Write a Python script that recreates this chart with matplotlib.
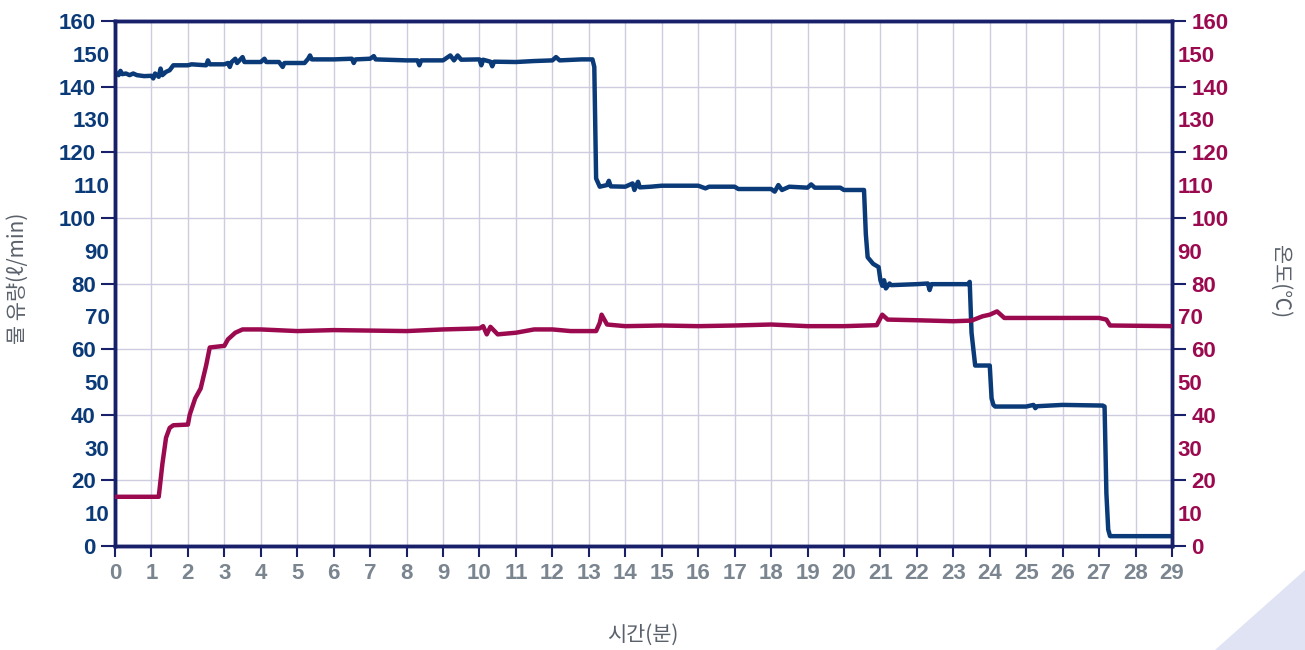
import matplotlib.pyplot as plt
import numpy as np
from matplotlib.patches import Polygon

# flow (l/min) over time (min)
flow_t = [0.0, 0.1, 0.15, 0.2, 0.3, 0.4, 0.5, 0.6, 0.8, 1.0, 1.05, 1.1, 1.2, 1.25, 1.3, 1.4, 1.5,
          1.6, 2.0, 2.1, 2.5, 2.55, 2.6, 3.0, 3.1, 3.15, 3.2, 3.3, 3.35, 3.5, 3.55, 4.0, 4.1, 4.15,
          4.5, 4.6, 4.65, 5.0, 5.2, 5.3, 5.35, 5.4, 6.0, 6.5, 6.55, 6.6, 7.0, 7.1, 7.15, 8.0, 8.3,
          8.35, 8.4, 9.0, 9.2, 9.3, 9.4, 9.5, 10.0, 10.05, 10.1, 10.3, 10.35, 10.4, 11.0, 11.5, 12.0,
          12.1, 12.2, 12.8, 13.1, 13.15, 13.2, 13.3, 13.5, 13.55, 13.6, 14.0, 14.2, 14.25, 14.35,
          14.4, 14.7, 15.0, 16.0, 16.2, 16.3, 17.0, 17.1, 18.0, 18.1, 18.2, 18.3, 18.5, 19.0, 19.1,
          19.2, 19.9, 20.0, 20.55, 20.6, 20.65, 20.8, 20.95, 21.0, 21.05, 21.1, 21.15, 21.25, 21.3,
          22.0, 22.3, 22.35, 22.4, 23.4, 23.45, 23.5, 23.6, 24.0, 24.05, 24.1, 24.15, 25.0, 25.2,
          25.25, 25.3, 26.0, 27.1, 27.15, 27.2, 27.25, 27.3, 29.0]
flow_v = [144.5, 143.5, 144.8, 143.8, 144.0, 143.5, 144.0, 143.5, 143.2, 143.3, 142.5, 144.0, 143.0,
          145.5, 143.5, 144.5, 145.0, 146.5, 146.5, 146.8, 146.5, 148.0, 146.8, 146.8, 147.2, 146.0,
          147.5, 148.5, 147.2, 149.0, 147.5, 147.5, 148.5, 147.5, 147.5, 146.0, 147.2, 147.2, 147.2,
          148.5, 149.5, 148.3, 148.3, 148.5, 147.2, 148.3, 148.5, 149.3, 148.3, 148.0, 148.0, 146.5,
          148.0, 148.0, 149.5, 148.0, 149.5, 148.2, 148.3, 146.5, 148.2, 147.6, 146.2, 147.6, 147.5,
          147.8, 148.0, 149.0, 148.0, 148.3, 148.3, 146.0, 112.0, 109.5, 110.0, 111.3, 109.6, 109.5,
          110.5, 108.5, 111.0, 109.3, 109.5, 109.8, 109.8, 109.0, 109.5, 109.5, 108.8, 108.8, 108.0,
          110.0, 108.5, 109.5, 109.2, 110.2, 109.2, 109.2, 108.5, 108.5, 95.0, 88.0, 86.0, 85.0, 81.0,
          79.3, 81.0, 78.5, 80.0, 79.5, 79.8, 80.0, 78.0, 79.8, 79.8, 80.5, 65.0, 55.0, 55.0, 45.0,
          43.0, 42.5, 42.5, 43.0, 42.0, 42.6, 43.0, 42.8, 42.5, 16.0, 5.0, 3.0, 3.0]

# temperature (deg C) over time (min)
temp_t = [0.0, 1.2, 1.3, 1.4, 1.5, 1.6, 2.0, 2.05, 2.2, 2.35, 2.5, 2.6, 3.0, 3.1, 3.3, 3.5, 4.0, 5.0,
          6.0, 8.0, 9.0, 10.0, 10.1, 10.2, 10.3, 10.5, 11.0, 11.5, 12.0, 12.5, 13.2, 13.3, 13.35, 13.5,
          14.0, 15.0, 16.0, 17.0, 18.0, 19.0, 20.0, 20.9, 21.05, 21.2, 22.0, 23.0, 23.5, 23.8, 24.0,
          24.2, 24.4, 25.0, 26.0, 27.0, 27.2, 27.3, 29.0]
temp_v = [15.0, 15.0, 25.0, 33.0, 36.0, 36.8, 37.0, 40.0, 45.0, 48.0, 55.0, 60.5, 61.0, 63.0, 65.0,
          66.0, 66.0, 65.5, 65.8, 65.5, 66.0, 66.3, 67.0, 64.5, 66.8, 64.5, 65.0, 66.0, 66.0, 65.5,
          65.5, 68.0, 70.5, 67.5, 67.0, 67.2, 67.0, 67.2, 67.5, 67.0, 67.0, 67.3, 70.5, 69.0, 68.8,
          68.5, 68.7, 70.0, 70.5, 71.5, 69.5, 69.5, 69.5, 69.5, 69.0, 67.2, 67.0]

blue = '#0b3a78'
red = '#9b0a4f'
navy = '#18206a'
gray = '#7a8590'
num_font = ['Liberation Sans', 'DejaVu Sans']
kr_font = ['Noto Sans CJK KR', 'DejaVu Sans']

fig = plt.figure(figsize=(13.05, 6.5), dpi=100)
ax = fig.add_axes([115/1305, 1-546/650, (1172-115)/1305, (546-21)/650])
ax2 = ax.twinx()

ax.set_xlim(0, 29)
ax.set_ylim(0, 160)
ax2.set_ylim(0, 160)

ax.set_xticks(range(0, 30))
ax.set_yticks(range(0, 161, 20))
ax.set_yticks(range(10, 161, 20), minor=True)
ax2.set_yticks(range(0, 161, 20))
ax2.set_yticks(range(10, 161, 20), minor=True)
ax.grid(True, which='major', color='#cdcce0', linewidth=1.0)
ax.set_axisbelow(True)

ax.plot(flow_t, flow_v, color=blue, linewidth=3.2, solid_joinstyle='round', zorder=3)
ax2.plot(temp_t, temp_v, color=red, linewidth=3.2, solid_joinstyle='round', zorder=3)

for a in (ax, ax2):
    for s in a.spines.values():
        s.set_color(navy)
        s.set_linewidth(2.5)

ax.tick_params(axis='x', which='major', length=8, width=1.5, color=navy, pad=4)
ax.tick_params(axis='y', which='major', length=10, width=1.5, color=navy, pad=4)
ax.tick_params(axis='y', which='minor', length=0, pad=4)
ax2.tick_params(axis='y', which='major', length=10, width=1.5, color=navy, pad=4)
ax2.tick_params(axis='y', which='minor', length=0, pad=4)

fs = 16
ax.set_xticklabels([str(i) for i in range(30)], fontsize=fs, fontweight='bold', color=gray, family=num_font)
ax.set_yticklabels([str(i) for i in range(0, 161, 20)], fontsize=fs, fontweight='bold', color=blue, family=num_font)
ax.set_yticklabels([str(i) for i in range(10, 161, 20)], minor=True, fontsize=fs, fontweight='bold', color=blue, family=num_font)
ax2.set_yticklabels([str(i) for i in range(0, 161, 20)], fontsize=fs, fontweight='bold', color=red, family=num_font)
ax2.set_yticklabels([str(i) for i in range(10, 161, 20)], minor=True, fontsize=fs, fontweight='bold', color=red, family=num_font)

fig.text(643/1305, 1-635/650, '시간(분)', ha='center', va='center', fontsize=15, color='#5a616b', family=kr_font)
fig.text(18/1305, 1-278/650, '물 유량(ℓ/min)', ha='center', va='center', rotation=90, fontsize=15, color='#5a616b', family=kr_font)
fig.text(1280/1305, 1-282/650, '온도(℃)', ha='center', va='center', rotation=270, fontsize=15, color='#5a616b', family=kr_font)

# decorative corner
fig.patches.append(Polygon([(1215/1305, 0), (1305/1305, 80/650), (1, 0)], closed=True,
                           transform=fig.transFigure, facecolor='#dfe3f3', edgecolor='none', zorder=0))

fig.savefig('out.png', dpi=100)
